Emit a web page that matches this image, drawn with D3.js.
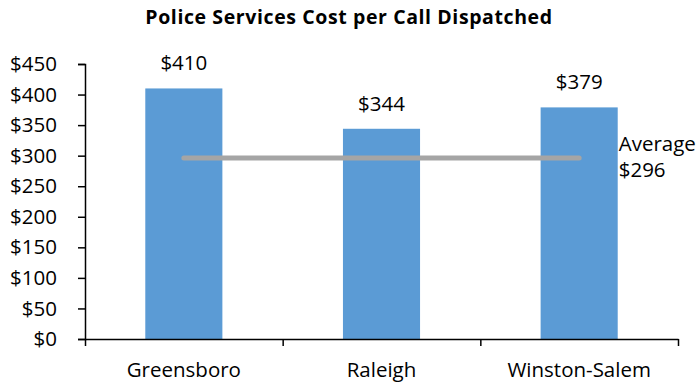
<!DOCTYPE html>
<html>
<head>
<meta charset="utf-8">
<script src="https://cdn.jsdelivr.net/npm/d3@7"></script>
<style>
  body { margin: 0; background: #fff; }
  svg { font-family: "Open Sans", sans-serif; }
  .title { font-weight: bold; font-size: 19.5px; letter-spacing: 0.6px; text-anchor: middle; }
</style>
</head>
<body>
<svg id="svg_chart" width="700" height="383"></svg>
<script>

// data
const cities = ['Greensboro', 'Raleigh', 'Winston-Salem'];
const costs = [410, 344, 379];
const average = 296;
const yTicks = [0, 50, 100, 150, 200, 250, 300, 350, 400, 450];

const svg = d3.select('#svg_chart');
const width = 700,
  height = 383,
  padLeft = 85,
  padRight = 22,
  padTop = 64,
  padBottom = 44;

const innerWidth = width - padLeft - padRight;
const innerHeight = height - padTop - padBottom;

const c1 = '#5B9BD5';
const c2 = '#A5A5A5';
const fs = '20.5px';

const g = svg.append('g')
  .attr('transform', `translate(${padLeft}, ${padTop})`);

// scales
const x = d3.scaleBand()
  .domain(cities)
  .range([0, innerWidth])
  .padding(0);

const y = d3.scaleLinear()
  .domain([0, 450])
  .range([innerHeight, 0]);

const barW = x.bandwidth() * 0.39;

// title
svg.append('text')
  .attr('class', 'title')
  .text('Police Services Cost per Call Dispatched')
  .attr('x', 349)
  .attr('y', 24);

// bars
g.selectAll('.bar')
  .data(cities)
  .join('rect')
  .attr('class', 'bar')
  .attr('x', d => x(d) + x.bandwidth() / 2 - barW / 2)
  .attr('width', barW)
  .attr('y', (d, i) => y(costs[i]))
  .attr('height', (d, i) => innerHeight - y(costs[i]))
  .attr('fill', c1);

// value labels
g.selectAll('.label')
  .data(cities)
  .join('text')
  .attr('class', 'label')
  .attr('x', d => x(d) + x.bandwidth() / 2)
  .attr('y', (d, i) => y(costs[i]) - 18)
  .attr('text-anchor', 'middle')
  .style('font-size', fs)
  .text((d, i) => '$' + costs[i]);

// average line
const avgLine = d3.line()
  .x(d => x(d) + x.bandwidth() / 2)
  .y(() => y(average));

g.append('path')
  .datum(cities)
  .attr('d', avgLine)
  .style('fill', 'none')
  .style('stroke', c2)
  .style('stroke-width', 5)
  .style('stroke-linecap', 'round');

const avgX = x(cities[2]) + x.bandwidth() / 2 + barW / 2 + 1;
const avgLabel = g.append('text')
  .attr('x', avgX)
  .attr('y', y(average))
  .style('font-size', fs);
avgLabel.append('tspan').attr('dy', -7).text('Average');
avgLabel.append('tspan').attr('x', avgX).attr('dy', 26).text('$' + average);

// y axis
const yAxis = d3.axisLeft(y)
  .tickValues(yTicks)
  .tickFormat(d => '$' + d)
  .tickSize(7)
  .tickSizeOuter(7)
  .tickPadding(21);

const yg = g.append('g').call(yAxis);
yg.selectAll('text').style('font-size', fs).style('font-family', '"Open Sans", sans-serif').attr('fill', '#000');
yg.selectAll('line, .domain').attr('stroke', '#000').attr('stroke-width', 1.5);

// x axis
const xEdge = d3.scaleLinear().domain([0, 3]).range([0, innerWidth]);
const xg = g.append('g')
  .attr('transform', `translate(0,${innerHeight})`)
  .call(d3.axisBottom(xEdge).tickValues([0, 1, 2, 3]).tickFormat('').tickSize(7).tickSizeOuter(0));
xg.selectAll('line, .domain').attr('stroke', '#000').attr('stroke-width', 1.5);

g.selectAll('.cat')
  .data(cities)
  .join('text')
  .attr('class', 'cat')
  .attr('x', d => x(d) + x.bandwidth() / 2)
  .attr('y', innerHeight + 38)
  .attr('text-anchor', 'middle')
  .style('font-size', fs)
  .text(d => d);

</script>
</body>
</html>
